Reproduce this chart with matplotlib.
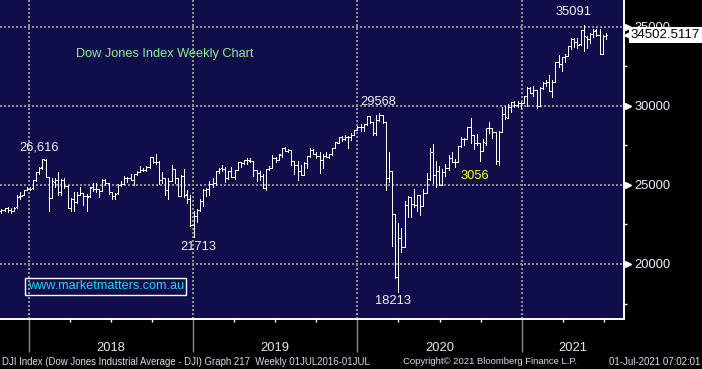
import numpy as np
import pandas as pd
import matplotlib
matplotlib.use("Agg")
import matplotlib.pyplot as plt

plt.rcParams['font.family'] = ['Liberation Sans', 'DejaVu Sans']
plt.rcParams['axes.grid'] = False

# Weekly DJI bars, week ending 27-Oct-2017 .. 02-Jul-2021
week_start = "2017-10-27"
week_end = "2021-07-02"

opens = [
    # 2017
    23330, 23440, 23540, 23410, 23370, 23580, 24290, 24330, 24700, 24770,
    # 2018
    24810, 25310, 25790, 26100, 26600, 25500, 24200, 25200, 25320, 24530,
    25340, 24930, 23560, 24100, 23930, 24370, 24460, 24300, 24270, 24840,
    24710, 24750, 24640, 25320, 25090, 24580, 24270, 24460, 25020, 25060,
    25450, 25460, 25310, 25670, 25800, 25960, 25920, 26150, 26740, 26460,
    26450, 25340, 25450, 24690, 25270, 25990, 25410, 24300, 25540, 24400,
    24100, 22450,
    # 2019
    23060, 23440, 23990, 24700, 24740, 25060, 25110, 25880, 26040, 26030,
    25450, 25850, 25500, 25930, 26420, 26410, 26560, 26540, 26500, 25940,
    25760, 25590, 24820, 25980, 26090, 26720, 26600, 26920, 27330, 27150,
    27190, 26480, 26280, 25890, 25630, 26400, 26800, 27220, 26930, 26820,
    26570, 26820, 26770, 26960, 27350, 27680, 28000, 27880, 28050, 28010,
    28140, 28460,
    # 2020
    28640, 28630, 28820, 29350, 28990, 28260, 29100, 29400, 28990, 25410,
    25860, 23190, 19170, 21630, 21050, 23720, 24240, 23780, 23720, 24330,
    23690, 24470, 25380, 27110, 25610, 25870, 25020, 25830, 26080, 26670,
    26470, 26430, 27430, 27930, 27930, 28650, 28130, 27670, 27660, 27170,
    27680, 28590, 28600, 28330, 26500, 28320, 29480, 29260, 29910, 30220,
    30050, 30180, 30200,
    # 2021
    30610, 31100, 30810, 30990, 29980, 31150, 31460, 31490, 30930, 31500,
    32780, 32630, 33070, 33150, 33800, 34200, 34040, 33880, 34780, 34380,
    34210, 34530, 34760, 34480, 33290, 34430,
]

highs = [
    23490, 23560, 23600, 23530, 23600, 24330, 24530, 24670, 24880, 24850,
    25300, 25810, 26150, 26617, 26610, 25520, 25430, 25430, 25800, 25350,
    25450, 25000, 24190, 24520, 24560, 24860, 24480, 24440, 24870, 25090,
    25090, 24760, 25400, 25400, 25090, 24580, 24490, 25050, 25230, 25560,
    25520, 25690, 25700, 25870, 26170, 26050, 26180, 26770, 26770, 26951,
    26520, 25800, 25450, 25450, 26280, 26000, 25410, 25600, 25980, 24700,
    24360, 23380,
    23470, 24100, 24750, 24800, 25250, 25410, 25900, 26060, 26240, 26120,
    25890, 26110, 25950, 26430, 26460, 26600, 26700, 26700, 26500, 25940,
    25900, 25660, 25990, 26190, 26900, 26760, 26970, 27350, 27400, 27270,
    27200, 26490, 26500, 26270, 26420, 26830, 27310, 27240, 27080, 27050,
    26940, 27050, 26960, 27350, 27700, 28010, 28090, 28170, 28110, 28290,
    28460, 28700,
    28870, 28870, 29370, 29370, 28990, 29410, 29568, 29410, 28990, 27100,
    25860, 23190, 22600, 22300, 24000, 24300, 24240, 24760, 24370, 24360,
    24750, 25760, 27340, 27580, 26500, 26180, 25990, 26290, 26880, 27100,
    26630, 27440, 28000, 27990, 28660, 29200, 28140, 28200, 27670, 27900,
    28600, 28960, 28610, 28330, 28400, 29930, 29960, 30120, 30220, 30330,
    30300, 30230, 30640,
    31190, 31220, 31270, 31030, 31200, 31480, 31650, 31960, 31620, 32790,
    33230, 33080, 33260, 33810, 34260, 34260, 34260, 34810, 35091, 34440,
    34630, 34850, 34850, 34850, 34500, 34600,
]

lows = [
    23240, 23330, 23270, 23250, 23350, 23540, 24140, 24330, 24700, 24690,
    24740, 25260, 25700, 26000, 25500, 23360, 24170, 24880, 24340, 24360,
    24830, 23510, 23340, 23340, 23850, 24360, 23720, 23340, 24210, 24630,
    24530, 24250, 24630, 24970, 24420, 24080, 24120, 24450, 24920, 25030,
    25210, 25300, 24970, 25640, 25790, 25880, 25870, 26040, 26390, 26330,
    25050, 25100, 24380, 24120, 25230, 25090, 24270, 24270, 24240, 23880,
    22400, 21713,
    22640, 23360, 23650, 24300, 24380, 24880, 25020, 25780, 25850, 25210,
    25390, 25500, 25400, 25930, 26100, 26330, 26310, 26420, 25550, 25220,
    25330, 24810, 24680, 25960, 26080, 26420, 26600, 26780, 27120, 27060,
    26250, 25720, 25340, 25620, 25600, 26040, 26760, 26930, 26720, 25740,
    26040, 26750, 26730, 26870, 27320, 27630, 27770, 27860, 27320, 27840,
    28130, 28450,
    28420, 28420, 28800, 28940, 28170, 28170, 29040, 28940, 24680, 25210,
    21150, 19120, 18213, 20740, 21050, 22940, 22940, 23600, 23360, 23100,
    23690, 24460, 25340, 25130, 24840, 25000, 25000, 25580, 25930, 26430,
    26130, 26420, 27420, 27530, 27920, 27660, 27240, 27540, 26540, 27170,
    27550, 28310, 27970, 26300, 26280, 28320, 29140, 29260, 29600, 29900,
    29950, 29880, 30200,
    30010, 30800, 30610, 29860, 29980, 31060, 31260, 30940, 30550, 31490,
    32440, 32170, 32800, 33150, 33600, 33720, 33670, 33870, 33470, 33640,
    34000, 34380, 34400, 33270, 33300, 34250,
]

closes = [
    23434, 23539, 23422, 23358, 23558, 24231, 24329, 24651, 24754, 24719,
    25295, 25803, 26072, 26616, 25521, 24191, 25219, 25310, 24538, 25336,
    24946, 23533, 24103, 23933, 24360, 24463, 24311, 24263, 24831, 24715,
    24753, 24635, 25317, 25090, 24581, 24271, 24456, 25019, 25058, 25451,
    25463, 25313, 25669, 25790, 25965, 25917, 26155, 26744, 26458, 26447,
    25340, 25444, 24689, 25271, 25989, 25413, 24286, 25538, 24389, 24101,
    22445, 23062,
    23433, 23996, 24706, 24737, 25064, 25106, 25883, 26031, 26026, 25450,
    25849, 25502, 25929, 26425, 26412, 26559, 26543, 26505, 25942, 25764,
    25586, 24815, 25984, 26090, 26719, 26600, 26922, 27332, 27154, 27192,
    26485, 26287, 25886, 25629, 26403, 26797, 27220, 26935, 26820, 26573,
    26817, 26770, 26958, 27347, 27681, 28005, 27876, 28051, 28015, 28135,
    28455, 28645,
    28634, 28823, 29348, 28990, 28256, 29103, 29398, 28992, 25409, 25865,
    23186, 19174, 21637, 21053, 23719, 24242, 23775, 23724, 24331, 23685,
    24465, 25383, 27111, 25606, 25871, 25016, 25827, 26075, 26672, 26470,
    26428, 27433, 27931, 27930, 28654, 28133, 27666, 27657, 27174, 27683,
    28587, 28606, 28336, 26502, 28323, 29480, 29263, 29910, 30218, 30046,
    30179, 30200, 30606,
    31098, 30814, 30997, 29983, 31148, 31458, 31494, 30932, 31496, 32779,
    32628, 33073, 33153, 33801, 34200, 34043, 33875, 34778, 34382, 34208,
    34529, 34756, 34480, 33290, 34433, 34502.5117,
]

year_labels = ["2018", "2019", "2020", "2021"]
price_levels = [20000, 25000, 30000, 35000]
last_price = 34502.5117

# week positions as fractional years (bars sit a few days after the Friday)
dates = pd.date_range(week_start, week_end, freq="W-FRI") + pd.Timedelta(days=5)
xs = dates.year + (dates.dayofyear - 1) / np.where(dates.is_leap_year, 366, 365)
xs = np.asarray(xs, dtype=float)
assert len(xs) == len(opens) == len(highs) == len(lows) == len(closes)

bg = "#100d4b"
txt = "#eef2ff"
grid_c = "#8e8e96"

XLIM = (2017.824, 2021.623)
YLIM = (16523, 36688)

fig = plt.figure(figsize=(7.02, 3.69), dpi=100, facecolor="black")
ax = fig.add_axes([0, 50 / 369, 624 / 702, 319 / 369])
ax.set_facecolor(bg)
ax.grid(False)

# dotted grid drawn as rows of small square dots (2px dot, 2px gap)
px_x = (XLIM[1] - XLIM[0]) / 624
px_y = (YLIM[1] - YLIM[0]) / 319
dot_x = np.arange(XLIM[0] + px_x, XLIM[1], 4 * px_x)
dot_y = np.arange(YLIM[0] + 1.5 * px_y, YLIM[1], 4 * px_y)
for lv in price_levels:
    ax.plot(dot_x, np.full(len(dot_x), lv), ls="none", marker="s", ms=1.44,
            mew=0, color=grid_c, zorder=1, antialiased=False)
for yr in year_labels:
    ax.plot(np.full(len(dot_y), int(yr)), dot_y, ls="none", marker="s", ms=1.44,
            mew=0, color=grid_c, zorder=1, antialiased=False)

# OHLC bars, thin white
hw = 0.45 * 7 / 365.25
ax.vlines(xs, lows, highs, color="white", lw=0.6, zorder=3, antialiased=False)
ax.hlines(opens, xs - hw, xs, color="white", lw=0.6, zorder=3, antialiased=False)
ax.hlines(closes, xs, xs + hw, color="white", lw=0.6, zorder=3, antialiased=False)

# spines
for s in ["left", "top"]:
    ax.spines[s].set_visible(False)
ax.spines["right"].set_color("white")
ax.spines["right"].set_linewidth(1.4)
ax.spines["bottom"].set_color("white")
ax.spines["bottom"].set_linewidth(1.4)

# x ticks: long grey year ticks below the axis, short white quarter ticks
ax.set_xticks([int(y) for y in year_labels])
ax.set_xticks(np.arange(2018.0, 2021.6, 0.25), minor=True)
ax.tick_params(axis="x", which="major", direction="out", length=23.5, width=1,
               color="#8a8a8a", labelbottom=False)
ax.tick_params(axis="x", which="minor", direction="out", length=2.5, width=1,
               color="white")

# y axis on the right
ax.yaxis.tick_right()
ax.set_yticks(price_levels)
ax.set_yticklabels([str(v) for v in price_levels])
ax.set_yticks([17500, 22500, 27500, 32500], minor=True)
ax.tick_params(axis="y", which="major", length=0, pad=7.5, labelsize=9.3,
               labelcolor=txt)
ax.tick_params(axis="y", which="minor", direction="out", length=2.5, width=1,
               color="white")

# limits last, so the tick setters do not widen them
ax.set_xlim(*XLIM)
ax.set_ylim(*YLIM)

year_centres = [2018.5, 2019.5, 2020.5, 2021.31]
for pos, lab in zip(year_centres, year_labels):
    ax.text(pos, -0.09, lab, transform=ax.get_xaxis_transform(), ha="center",
            va="center", color="#e8e8e8", fontsize=9.3, clip_on=False)

ax.plot([1.006] * len(price_levels), price_levels, ls="none", marker=">",
        ms=5, color="white", transform=ax.get_yaxis_transform(), clip_on=False)

# last price flag
ax.plot([1.006], [last_price], ls="none", marker="<", ms=6, color="white",
        transform=ax.get_yaxis_transform(), clip_on=False, zorder=6)
ax.text(1.011, last_price, "%.4f" % last_price, transform=ax.get_yaxis_transform(),
        ha="left", va="center", fontsize=9.5, color="black", clip_on=False,
        zorder=7, bbox=dict(fc="white", ec="none", boxstyle="square,pad=0.15"))

# annotations
ax.text(2018.286, 33275, "Dow Jones Index Weekly Chart", color="#8cf08c",
        fontsize=9.2, ha="left", va="center")
peaks = [(2018.064, 27333, "26,616"), (2019.031, 21075, "21713"),
         (2020.125, 30241, "29568"), (2020.219, 17681, "18213"),
         (2021.313, 35930, "35091")]
for px, py, lab in peaks:
    ax.text(px, py, lab, color=txt, fontsize=9.3, ha="center", va="center")
ax.text(2020.718, 25563, "3056", color="#ffff2a", fontsize=9.3, ha="center",
        va="center")
ax.text(2018.468, 18580, "www.marketmatters.com.au", color="#1ad6f5",
        fontsize=9.1, ha="center", va="center",
        bbox=dict(fc="none", ec="white", lw=1, boxstyle="square,pad=0.2"))

# footer
foot = "#d8dcec"
fig.text(2 / 702, 7 / 369, "DJI Index (Dow Jones Industrial Average - DJI) Graph 217  "
         "Weekly 01JUL2016-01JUL", color=foot, fontsize=6.95, va="center")
fig.text(403 / 702, 7 / 369, "Copyright\u00a9 2021 Bloomberg Finance L.P.",
         color=foot, fontsize=6.8, va="center")
fig.text(700 / 702, 7 / 369, "01-Jul-2021 07:02:01", color=foot, fontsize=7.0,
         va="center", ha="right")

fig.savefig("out.png", dpi=100, facecolor="black")
